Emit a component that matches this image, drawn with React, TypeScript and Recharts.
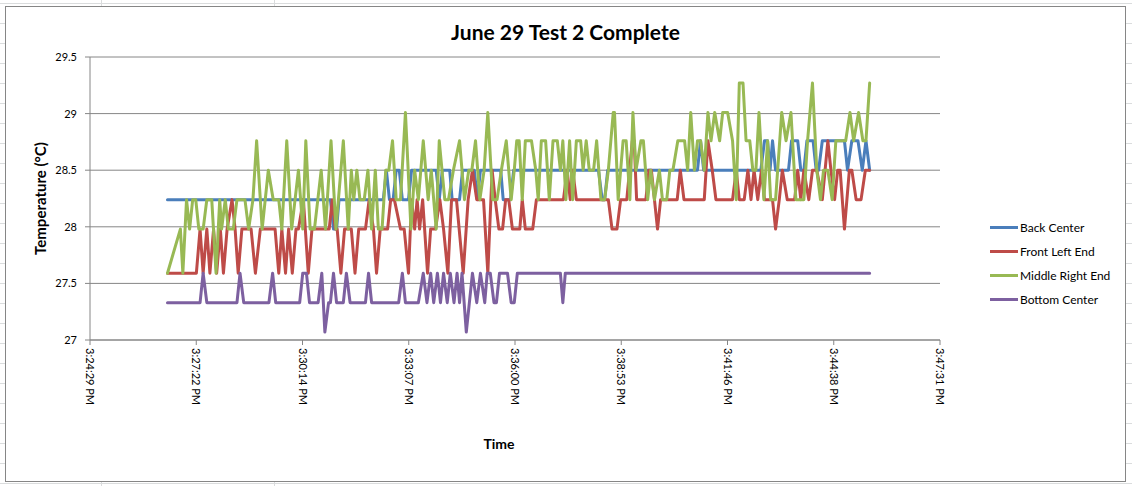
import { CartesianGrid, Line, LineChart, XAxis, YAxis } from "recharts";

// time axis: seconds after 3:24:29 PM, Excel major unit 0.002 day
const timeLabels = [
  "3:24:29 PM",
  "3:27:22 PM",
  "3:30:14 PM",
  "3:33:07 PM",
  "3:36:00 PM",
  "3:38:53 PM",
  "3:41:46 PM",
  "3:44:38 PM",
  "3:47:31 PM",
];
const majorStep = 172.8;
const timeTicks = timeLabels.map((_, i) => i * majorStep);
const tempTicks = [27, 27.5, 28, 28.5, 29, 29.5];

// [seconds, °C]
const backCenter = [
  [126, 28.24], [391, 28.24], [396, 27.98], [401, 27.98], [405, 28.24], [477, 28.24], [482, 28.5], [487, 28.24],
  [493, 28.24], [498, 28.5], [503, 28.5], [508, 28.24], [518, 28.24], [523, 28.5], [563, 28.5], [568, 28.24],
  [573, 28.5], [585, 28.5], [589, 28.24], [601, 28.24], [606, 28.5], [625, 28.5], [630, 28.24], [635, 28.5],
  [668, 28.5], [672, 28.24], [684, 28.24], [689, 28.5], [827, 28.5], [833, 28.24], [837, 28.24], [842, 28.5],
  [988, 28.5], [993, 28.76], [998, 28.5], [1091, 28.5], [1097, 28.76], [1102, 28.76], [1106, 28.5], [1110, 28.76],
  [1115, 28.5], [1136, 28.5], [1141, 28.76], [1151, 28.76], [1156, 28.5], [1161, 28.5], [1166, 28.76], [1176, 28.76],
  [1181, 28.5], [1185, 28.5], [1191, 28.76], [1227, 28.76], [1232, 28.5], [1239, 28.76], [1249, 28.76], [1256, 28.5],
  [1262, 28.76], [1268, 28.5],
];

const frontLeftEnd = [
  [126, 27.59], [173, 27.59], [179, 27.98], [184, 27.59], [190, 27.98], [195, 27.59], [201, 27.98], [206, 27.59],
  [212, 27.98], [217, 27.59], [223, 27.98], [231, 28.24], [236, 27.98], [241, 27.59], [247, 27.98], [262, 27.98],
  [269, 27.59], [277, 27.98], [301, 27.98], [307, 27.59], [312, 27.98], [318, 27.59], [323, 27.98], [329, 27.59],
  [335, 27.98], [339, 27.98], [347, 28.24], [355, 27.59], [361, 27.98], [389, 27.98], [394, 28.24], [399, 27.98],
  [402, 27.98], [408, 27.59], [414, 27.98], [425, 27.98], [431, 27.59], [437, 27.98], [448, 27.98], [454, 28.24],
  [461, 27.98], [466, 27.59], [472, 27.98], [484, 27.98], [489, 28.24], [495, 28.24], [505, 27.98], [511, 27.98],
  [518, 27.59], [523, 28.24], [528, 27.98], [532, 28.24], [536, 27.98], [541, 28.24], [549, 27.59], [554, 27.98],
  [562, 27.98], [569, 28.24], [575, 27.98], [582, 27.59], [588, 28.24], [596, 28.24], [607, 27.59], [615, 28.24],
  [622, 28.5], [629, 28.24], [640, 28.24], [647, 27.59], [654, 28.5], [659, 28.24], [665, 27.98], [671, 27.98],
  [676, 28.24], [681, 28.24], [687, 27.98], [699, 27.98], [703, 28.24], [708, 27.98], [720, 27.98], [726, 28.24],
  [770, 28.24], [776, 28.5], [781, 28.24], [785, 28.5], [791, 28.24], [843, 28.24], [849, 27.98], [857, 27.98],
  [863, 28.24], [873, 28.24], [882, 28.76], [885, 28.76], [889, 28.24], [904, 28.24], [909, 28.5], [913, 28.5],
  [918, 28.24], [923, 27.98], [928, 28.24], [955, 28.24], [960, 28.5], [966, 28.24], [999, 28.24], [1005, 28.76],
  [1012, 28.5], [1018, 28.24], [1045, 28.24], [1051, 28.5], [1056, 28.24], [1064, 28.24], [1070, 28.5], [1075, 28.24],
  [1080, 28.5], [1086, 28.24], [1092, 28.5], [1097, 28.24], [1110, 28.24], [1115, 27.98], [1121, 28.24], [1126, 28.5],
  [1134, 28.24], [1146, 28.24], [1151, 28.5], [1156, 28.24], [1161, 28.5], [1169, 28.24], [1175, 28.5], [1182, 28.5],
  [1191, 28.24], [1200, 28.76], [1205, 28.5], [1211, 28.24], [1216, 28.5], [1220, 28.5], [1227, 27.98], [1235, 28.5],
  [1239, 28.5], [1246, 28.24], [1254, 28.24], [1261, 28.5], [1268, 28.5],
];

const middleRightEnd = [
  [126, 27.59], [147, 27.98], [151, 27.59], [157, 28.24], [162, 27.98], [167, 28.24], [172, 28.24], [177, 27.98],
  [184, 27.98], [190, 28.24], [198, 28.24], [205, 27.59], [211, 28.24], [214, 27.98], [220, 28.24], [225, 27.98],
  [233, 27.98], [239, 28.24], [252, 28.24], [258, 27.98], [265, 28.24], [271, 28.76], [280, 27.98], [290, 28.5],
  [298, 28.24], [307, 28.24], [312, 27.98], [320, 28.76], [328, 27.98], [339, 28.5], [346, 27.98], [351, 28.76],
  [358, 27.98], [365, 27.98], [376, 28.5], [383, 27.98], [392, 28.76], [400, 27.98], [412, 28.76], [420, 27.98],
  [425, 28.5], [429, 28.24], [434, 28.5], [439, 28.24], [446, 28.24], [452, 28.5], [458, 27.98], [464, 28.5],
  [469, 27.98], [475, 27.98], [481, 28.5], [486, 28.5], [492, 28.76], [498, 28.24], [505, 28.24], [513, 29.01],
  [522, 27.98], [528, 28.5], [534, 28.24], [542, 28.76], [550, 28.24], [555, 28.5], [563, 27.98], [568, 28.76],
  [577, 28.24], [583, 28.24], [591, 28.5], [601, 28.76], [609, 28.24], [616, 28.5], [621, 28.5], [627, 28.76],
  [634, 28.24], [641, 28.5], [647, 29.01], [655, 28.24], [662, 28.24], [669, 28.5], [677, 28.76], [685, 28.24],
  [690, 28.5], [694, 28.76], [698, 28.76], [703, 28.24], [708, 28.76], [718, 28.76], [725, 28.5], [729, 28.24],
  [734, 28.76], [741, 28.76], [747, 28.24], [753, 28.76], [760, 28.76], [765, 28.5], [769, 28.76], [774, 28.24],
  [780, 28.76], [785, 28.24], [791, 28.76], [798, 28.76], [802, 28.5], [807, 28.76], [812, 28.5], [819, 28.5],
  [824, 28.76], [831, 28.24], [837, 28.24], [843, 28.5], [851, 29.01], [853, 29.01], [859, 28.24], [867, 28.76],
  [872, 28.76], [878, 28.24], [883, 29.01], [888, 28.5], [896, 28.76], [900, 28.76], [907, 28.24], [912, 28.5],
  [918, 28.24], [926, 28.5], [931, 28.24], [938, 28.24], [943, 28.5], [948, 28.5], [956, 28.76], [967, 28.76],
  [972, 28.5], [977, 29.01], [983, 28.5], [988, 28.76], [993, 28.76], [999, 28.5], [1005, 29.01], [1010, 28.76],
  [1016, 29.01], [1024, 28.76], [1029, 29.01], [1037, 29.01], [1045, 28.76], [1051, 28.24], [1056, 29.27], [1062, 29.27],
  [1067, 28.76], [1073, 28.76], [1078, 28.5], [1083, 28.5], [1088, 29.01], [1096, 28.24], [1102, 28.76], [1107, 28.24],
  [1115, 28.24], [1125, 29.01], [1132, 28.76], [1140, 29.01], [1148, 28.24], [1161, 28.24], [1167, 28.76], [1175, 29.27],
  [1182, 28.5], [1188, 28.24], [1193, 28.5], [1200, 28.5], [1207, 28.24], [1213, 28.76], [1229, 28.76], [1236, 29.01],
  [1242, 28.76], [1250, 29.01], [1257, 28.76], [1262, 28.76], [1268, 29.27],
];

const bottomCenter = [
  [126, 27.33], [179, 27.33], [184, 27.59], [190, 27.33], [239, 27.33], [244, 27.59], [250, 27.33], [291, 27.33],
  [297, 27.59], [302, 27.33], [341, 27.33], [346, 27.59], [352, 27.59], [357, 27.33], [371, 27.33], [377, 27.59],
  [382, 27.07], [388, 27.33], [391, 27.33], [396, 27.59], [401, 27.33], [412, 27.33], [417, 27.59], [423, 27.33],
  [448, 27.33], [453, 27.59], [458, 27.33], [502, 27.33], [508, 27.59], [513, 27.33], [534, 27.33], [542, 27.59],
  [548, 27.33], [554, 27.59], [559, 27.33], [565, 27.59], [570, 27.33], [575, 27.59], [581, 27.33], [586, 27.59],
  [592, 27.33], [597, 27.59], [601, 27.33], [605, 27.59], [612, 27.07], [622, 27.59], [629, 27.33], [635, 27.59],
  [642, 27.33], [646, 27.59], [651, 27.59], [657, 27.33], [661, 27.33], [666, 27.59], [679, 27.59], [685, 27.33],
  [690, 27.33], [695, 27.59], [765, 27.59], [769, 27.33], [773, 27.59], [1268, 27.59],
];

const series = [
  { name: "Back Center", color: "#4A7EBB", points: backCenter },
  { name: "Front Left End", color: "#BE4B48", points: frontLeftEnd },
  { name: "Middle Right End", color: "#98B954", points: middleRightEnd },
  { name: "Bottom Center", color: "#7D60A0", points: bottomCenter },
];

const sheetCols = [101, 274];
const font = "Lato, 'Open Sans', sans-serif";
const axisGray = "#868686";

const TimeTick = (props: any) => {
  const { x, y, payload } = props;
  const label = timeLabels[Math.round(payload.value / majorStep)];
  return (
    <text
      x={x}
      y={y}
      dy="0.35em"
      transform={`rotate(90 ${x} ${y})`}
      textAnchor="start"
      fontSize={11}
      fontFamily={font}
      fill="#000"
    >
      {label}
    </text>
  );
};

export default function App() {
  return (
    <div
      style={{
        position: "absolute",
        left: 0,
        top: 0,
        width: 1132,
        height: 486,
        overflow: "hidden",
        background: "#fff",
        fontFamily: font,
      }}
    >
      <div
        style={{
          position: "absolute",
          inset: 0,
          backgroundImage:
            "repeating-linear-gradient(to bottom, transparent 0px, transparent 3px, #dadcdd 3px, #dadcdd 4px, transparent 4px, transparent 20px)",
        }}
      />
      {sheetCols.map((x) => (
        <div key={x} style={{ position: "absolute", left: x, top: 0, width: 1, height: 486, background: "#dadcdd" }} />
      ))}

      <div
        style={{
          position: "absolute",
          left: 5,
          top: 6,
          width: 1119,
          height: 474,
          border: `1px solid ${axisGray}`,
          background: "#fff",
        }}
      >
        <LineChart width={1119} height={474} margin={{ top: 50, right: 185, bottom: 31, left: 0 }}>
          <CartesianGrid vertical={false} stroke={axisGray} />
          <XAxis
            dataKey="t"
            type="number"
            domain={[0, 8 * majorStep]}
            ticks={timeTicks}
            interval={0}
            tick={<TimeTick />}
            tickSize={5}
            tickMargin={3}
            height={110}
            axisLine={{ stroke: axisGray }}
            tickLine={{ stroke: axisGray }}
            allowDataOverflow
          />
          <YAxis
            type="number"
            domain={[27, 29.5]}
            ticks={tempTicks}
            interval={0}
            width={84}
            tickSize={5}
            tickMargin={8}
            axisLine={{ stroke: axisGray }}
            tickLine={{ stroke: axisGray }}
            tick={{ fontSize: 11, fontFamily: font, fill: "#000" }}
            allowDataOverflow
          />
          {series.map((s) => (
            <Line
              key={s.name}
              name={s.name}
              data={s.points.map(([t, v]) => ({ t, v }))}
              dataKey="v"
              type="linear"
              stroke={s.color}
              strokeWidth={3}
              strokeLinejoin="round"
              strokeLinecap="round"
              dot={false}
              activeDot={false}
              isAnimationActive={false}
            />
          ))}
        </LineChart>

        <div
          style={{
            position: "absolute",
            left: 0,
            top: 12,
            width: 1119,
            textAlign: "center",
            fontSize: 21,
            lineHeight: "25px",
            fontWeight: 700,
            color: "#000",
          }}
        >
          June 29 Test 2 Complete
        </div>

        <div
          style={{
            position: "absolute",
            left: 393,
            top: 428,
            width: 200,
            textAlign: "center",
            fontSize: 14,
            lineHeight: "17px",
            fontWeight: 700,
          }}
        >
          Time
        </div>

        <div
          style={{
            position: "absolute",
            left: 34 - 100,
            top: 191 - 8.5,
            width: 200,
            textAlign: "center",
            fontSize: 15,
            lineHeight: "17px",
            fontWeight: 700,
            transform: "rotate(-90deg)",
          }}
        >
          Temperature (°C)
        </div>

        {series.map((s, i) => (
          <div
            key={s.name}
            style={{
              position: "absolute",
              left: 984,
              top: 220.7 + i * 24 - 8,
              height: 16,
              display: "flex",
              alignItems: "center",
              fontSize: 12,
              whiteSpace: "nowrap",
            }}
          >
            <span style={{ display: "inline-block", width: 28, height: 3, background: s.color, marginRight: 2 }} />
            <span>{s.name}</span>
          </div>
        ))}
      </div>
    </div>
  );
}
